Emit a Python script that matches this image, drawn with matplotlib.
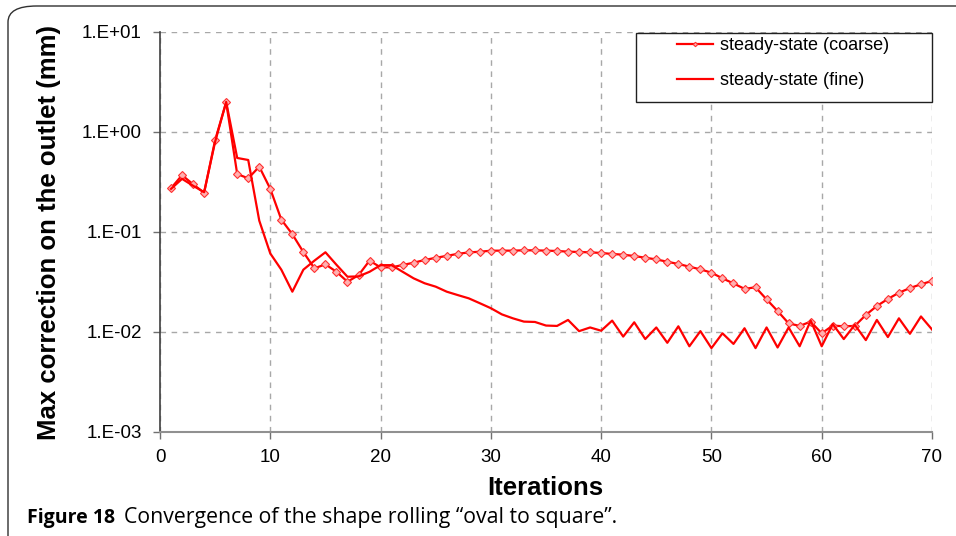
import numpy as np
import matplotlib.pyplot as plt
from matplotlib.patches import FancyBboxPatch, Rectangle
from matplotlib.ticker import FixedLocator, FuncFormatter, NullLocator

# iterations 1..70
iters = np.arange(1, 71)

coarse = [0.274, 0.37, 0.30, 0.247, 0.83, 1.98, 0.38, 0.344, 0.45, 0.27,
          0.133, 0.095, 0.063, 0.0433, 0.0475, 0.040, 0.0318, 0.037, 0.0517, 0.0443,
          0.0443, 0.0468, 0.0493, 0.0525, 0.0552, 0.0577, 0.0605, 0.0625, 0.0635, 0.0650,
          0.0651, 0.0651, 0.0656, 0.0656, 0.0651, 0.0646, 0.0636, 0.0631, 0.0626, 0.0617,
          0.0603, 0.0593, 0.0575, 0.0553, 0.0532, 0.0504, 0.0479, 0.0450, 0.0423, 0.0392,
          0.0344, 0.0306, 0.0270, 0.0280, 0.0212, 0.0162, 0.0122, 0.0115, 0.0127, 0.0097,
          0.0116, 0.0114, 0.0115, 0.0148, 0.0182, 0.0214, 0.0247, 0.0275, 0.0300, 0.0324]

fine = [0.27, 0.34, 0.29, 0.25, 0.80, 2.0, 0.55, 0.525, 0.13, 0.061,
        0.042, 0.0253, 0.042, 0.0517, 0.0627, 0.047, 0.0357, 0.036, 0.040, 0.0466,
        0.0466, 0.040, 0.0344, 0.0307, 0.0284, 0.0253, 0.0234, 0.0217, 0.0194, 0.0173,
        0.0150, 0.0137, 0.0127, 0.0126, 0.0116, 0.0115, 0.0132, 0.0102, 0.0111, 0.0103,
        0.0130, 0.0090, 0.0125, 0.0085, 0.0111, 0.0078, 0.0114, 0.0072, 0.0102, 0.0069,
        0.0097, 0.0076, 0.0109, 0.0069, 0.0111, 0.0070, 0.0111, 0.0072, 0.0130, 0.0072,
        0.0120, 0.0085, 0.0118, 0.0083, 0.0132, 0.0089, 0.0137, 0.0096, 0.0143, 0.0106]

y_ticks = [1e-3, 1e-2, 1e-1, 1e0, 1e1]
x_ticks = [0, 10, 20, 30, 40, 50, 60, 70]

plt.rcParams['font.family'] = ['Liberation Sans', 'DejaVu Sans']

fig = plt.figure(figsize=(9.56, 5.36), dpi=100)
ax = fig.add_axes([160/956, 1-432/536, 772/956, 400/536])

ax.plot(iters, coarse, color='#ff0000', lw=1.6, marker='D', ms=4.5,
        mfc='#ffb0b0', mec='#ff3030', mew=0.8, label='steady-state (coarse)')
ax.plot(iters, fine, color='#ff0000', lw=1.6, label='steady-state (fine)')

ax.set_yscale('log')
ax.set_ylim(1e-3, 1e1)
ax.set_xlim(0, 70)
ax.yaxis.set_major_locator(FixedLocator(y_ticks))
ax.yaxis.set_minor_locator(NullLocator())
ax.yaxis.set_major_formatter(FuncFormatter(
    lambda v, p: '1.E%+03d' % int(round(np.log10(v)))))
ax.set_xticks(x_ticks)

ax.grid(True, color='#a8a8a8', ls=(0, (4, 4)), lw=1.0)
for s in ['top', 'right']:
    ax.spines[s].set_visible(False)
ax.spines['left'].set_color('#404040')
ax.spines['bottom'].set_color('#909090')
ax.spines['left'].set_linewidth(1.2)
ax.spines['bottom'].set_linewidth(1.5)
ax.tick_params(axis='both', direction='out', length=5, width=1.0, color='#707070',
               labelsize=13.5)
ax.tick_params(axis='y', pad=8)
ax.tick_params(axis='x', pad=7)

ax.set_ylabel('Max correction on the outlet (mm)', fontsize=18.5, fontweight='bold')
ax.yaxis.set_label_coords(-0.128, 0.5)
ax.set_xlabel('Iterations', fontsize=18.5, fontweight='bold')
ax.xaxis.set_label_coords(0.499, -0.11)

# legend box drawn separately so the padding matches
ax.add_patch(Rectangle((476/772, 330/400), 296/772, 69/400, transform=ax.transAxes,
                       fill=True, fc='white', ec='#202020', lw=1.0, zorder=5,
                       clip_on=False))
leg = ax.legend(loc='upper left', bbox_to_anchor=(517/772, 0.987), fontsize=13,
                frameon=False, handlelength=2.0, handletextpad=0.4, borderpad=0.0,
                labelspacing=1.0, borderaxespad=0.0, markerscale=0.5)
leg.set_zorder(6)

# rounded outer frame of the figure panel
frame = FancyBboxPatch((8/956, -20/536), 1.2, (536-6+20)/536,
                       boxstyle='round,pad=0,rounding_size=0.03',
                       transform=fig.transFigure, fill=False, ec='#303030', lw=1.0)
fig.patches.append(frame)

fig.text(27/956, 1-518/536, 'Figure 18', fontsize=14, fontweight='bold',
         family=['Open Sans', 'DejaVu Sans'], va='center')
fig.text(124/956, 1-518/536, 'Convergence of the shape rolling \u201coval to square\u201d.',
         fontsize=15.3, family=['Open Sans', 'DejaVu Sans'], va='center')

fig.savefig('out.png', dpi=100)
